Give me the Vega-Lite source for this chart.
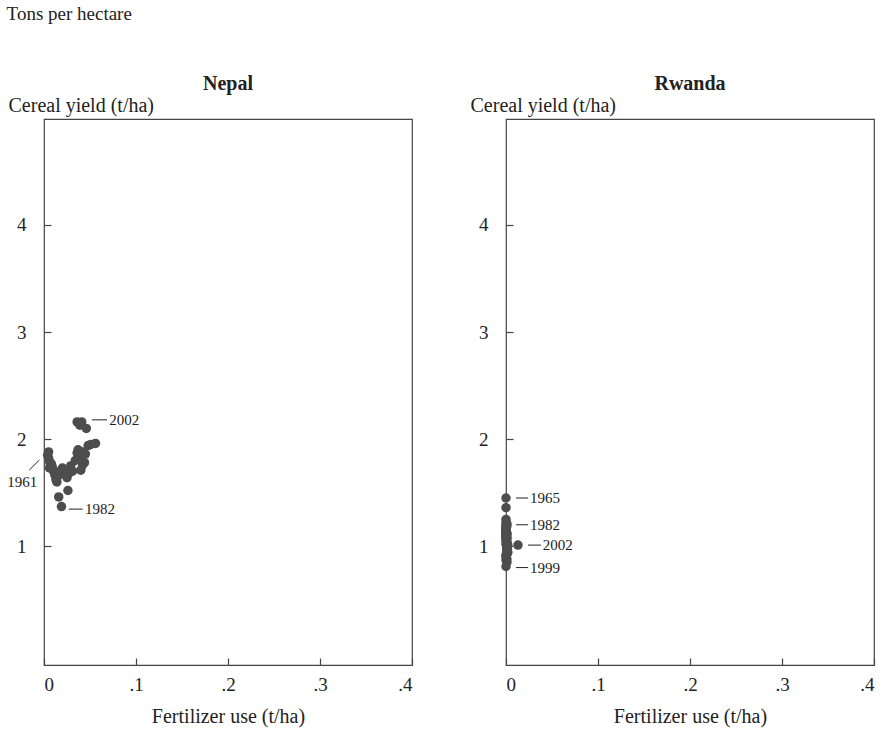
{
  "$schema": "https://vega.github.io/schema/vega-lite/v6.json",
  "background": "white",
  "padding": {"left": 6, "top": 5, "right": 5, "bottom": 5},
  "title": {"text": "Tons per hectare", "anchor": "start", "fontSize": 19, "fontWeight": "normal", "font": "Liberation Serif", "color": "#222", "offset": 49},
  "config": {
    "font": "Liberation Serif",
    "view": {"stroke": "#444", "strokeWidth": 1.2},
    "axis": {
      "domain": false, "grid": false,
      "tickColor": "#444", "tickSize": -7, "tickWidth": 1.2,
      "labelFont": "Liberation Serif", "labelFontSize": 19, "labelColor": "#222",
      "titleFont": "Liberation Serif", "titleFontSize": 20, "titleFontWeight": "normal", "titleColor": "#222"
    }
  },
  "datasets": {
    "nepal": [
      {"year": 1961, "fert": 0.004, "yield": 1.85},
      {"year": 1962, "fert": 0.005, "yield": 1.88},
      {"year": 1963, "fert": 0.005, "yield": 1.82},
      {"year": 1964, "fert": 0.006, "yield": 1.79},
      {"year": 1965, "fert": 0.007, "yield": 1.76},
      {"year": 1966, "fert": 0.006, "yield": 1.73},
      {"year": 1967, "fert": 0.008, "yield": 1.77},
      {"year": 1968, "fert": 0.009, "yield": 1.74},
      {"year": 1969, "fert": 0.010, "yield": 1.71},
      {"year": 1970, "fert": 0.011, "yield": 1.69},
      {"year": 1971, "fert": 0.012, "yield": 1.66},
      {"year": 1972, "fert": 0.013, "yield": 1.62},
      {"year": 1973, "fert": 0.014, "yield": 1.60},
      {"year": 1974, "fert": 0.016, "yield": 1.66},
      {"year": 1975, "fert": 0.018, "yield": 1.70},
      {"year": 1976, "fert": 0.020, "yield": 1.73},
      {"year": 1977, "fert": 0.019, "yield": 1.68},
      {"year": 1978, "fert": 0.021, "yield": 1.72},
      {"year": 1979, "fert": 0.016, "yield": 1.46},
      {"year": 1980, "fert": 0.025, "yield": 1.64},
      {"year": 1981, "fert": 0.027, "yield": 1.68},
      {"year": 1982, "fert": 0.019, "yield": 1.37},
      {"year": 1983, "fert": 0.026, "yield": 1.52},
      {"year": 1984, "fert": 0.029, "yield": 1.75},
      {"year": 1985, "fert": 0.031, "yield": 1.70},
      {"year": 1986, "fert": 0.034, "yield": 1.80},
      {"year": 1987, "fert": 0.036, "yield": 1.87},
      {"year": 1988, "fert": 0.037, "yield": 1.90},
      {"year": 1989, "fert": 0.039, "yield": 1.84},
      {"year": 1990, "fert": 0.040, "yield": 1.71},
      {"year": 1991, "fert": 0.042, "yield": 1.76},
      {"year": 1992, "fert": 0.044, "yield": 1.78},
      {"year": 1993, "fert": 0.043, "yield": 1.88},
      {"year": 1994, "fert": 0.045, "yield": 1.86},
      {"year": 1995, "fert": 0.048, "yield": 1.94},
      {"year": 1996, "fert": 0.051, "yield": 1.95},
      {"year": 1997, "fert": 0.056, "yield": 1.96},
      {"year": 1998, "fert": 0.038, "yield": 1.89},
      {"year": 1999, "fert": 0.036, "yield": 2.16},
      {"year": 2000, "fert": 0.041, "yield": 2.16},
      {"year": 2001, "fert": 0.039, "yield": 2.13},
      {"year": 2002, "fert": 0.046, "yield": 2.10}
    ],
    "rwanda": [
      {"year": 1961, "fert": 0.0, "yield": 1.10},
      {"year": 1962, "fert": 0.0, "yield": 1.15},
      {"year": 1963, "fert": 0.0, "yield": 1.20},
      {"year": 1964, "fert": 0.0, "yield": 1.36},
      {"year": 1965, "fert": 0.0, "yield": 1.45},
      {"year": 1966, "fert": 0.0, "yield": 1.25},
      {"year": 1967, "fert": 0.0, "yield": 1.22},
      {"year": 1968, "fert": 0.0, "yield": 1.18},
      {"year": 1969, "fert": 0.0, "yield": 1.12},
      {"year": 1970, "fert": 0.0, "yield": 1.08},
      {"year": 1971, "fert": 0.0, "yield": 1.13},
      {"year": 1972, "fert": 0.0, "yield": 1.17},
      {"year": 1973, "fert": 0.0, "yield": 1.05},
      {"year": 1974, "fert": 0.0, "yield": 1.02},
      {"year": 1975, "fert": 0.0, "yield": 1.10},
      {"year": 1976, "fert": 0.0, "yield": 1.14},
      {"year": 1977, "fert": 0.0, "yield": 1.06},
      {"year": 1978, "fert": 0.0, "yield": 1.09},
      {"year": 1979, "fert": 0.0, "yield": 1.16},
      {"year": 1980, "fert": 0.001, "yield": 1.11},
      {"year": 1981, "fert": 0.001, "yield": 1.19},
      {"year": 1982, "fert": 0.001, "yield": 1.21},
      {"year": 1983, "fert": 0.001, "yield": 1.08},
      {"year": 1984, "fert": 0.001, "yield": 0.98},
      {"year": 1985, "fert": 0.001, "yield": 1.12},
      {"year": 1986, "fert": 0.001, "yield": 1.07},
      {"year": 1987, "fert": 0.001, "yield": 1.03},
      {"year": 1988, "fert": 0.001, "yield": 1.00},
      {"year": 1989, "fert": 0.001, "yield": 0.95},
      {"year": 1990, "fert": 0.001, "yield": 0.97},
      {"year": 1991, "fert": 0.001, "yield": 0.99},
      {"year": 1992, "fert": 0.001, "yield": 1.04},
      {"year": 1993, "fert": 0.001, "yield": 0.93},
      {"year": 1994, "fert": 0.0, "yield": 0.87},
      {"year": 1995, "fert": 0.0, "yield": 0.90},
      {"year": 1996, "fert": 0.0, "yield": 0.92},
      {"year": 1997, "fert": 0.001, "yield": 0.88},
      {"year": 1998, "fert": 0.001, "yield": 0.85},
      {"year": 1999, "fert": 0.0, "yield": 0.81},
      {"year": 2000, "fert": 0.002, "yield": 0.94},
      {"year": 2001, "fert": 0.002, "yield": 1.01},
      {"year": 2002, "fert": 0.013, "yield": 1.01}
    ],
    "nepalLabels": [
      {"label": "2002", "x1": 0.052, "x2": 0.0685, "y1": 2.18, "y2": 2.18, "tx": 0.071, "ty": 2.18},
      {"label": "1982", "x1": 0.027, "x2": 0.042, "y1": 1.346, "y2": 1.346, "tx": 0.0445, "ty": 1.346},
      {"label": "1961", "x1": -0.016, "x2": -0.005, "y1": 1.711, "y2": 1.805, "tx": -0.040, "ty": 1.60}
    ],
    "rwandaLabels": [
      {"label": "1965", "x1": 0.011, "x2": 0.024, "y1": 1.45, "y2": 1.45, "tx": 0.026, "ty": 1.45},
      {"label": "1982", "x1": 0.011, "x2": 0.024, "y1": 1.20, "y2": 1.20, "tx": 0.026, "ty": 1.20},
      {"label": "2002", "x1": 0.024, "x2": 0.038, "y1": 1.01, "y2": 1.01, "tx": 0.040, "ty": 1.01},
      {"label": "1999", "x1": 0.011, "x2": 0.024, "y1": 0.80, "y2": 0.80, "tx": 0.026, "ty": 0.80}
    ]
  },
  "hconcat": [
    {
      "title": {"text": "Nepal", "fontWeight": "bold", "fontSize": 20, "anchor": "middle", "frame": "group", "color": "#222", "offset": 1},
      "width": 368, "height": 546,
      "layer": [
        {
          "data": {"name": "nepal"},
          "mark": {"type": "circle", "size": 90, "opacity": 1, "color": "#4d4d4d", "clip": false},
          "encoding": {
            "x": {"field": "fert", "type": "quantitative", "scale": {"domain": [0, 0.4], "nice": false, "zero": false},
              "axis": {"values": [0, 0.1, 0.2, 0.3, 0.4], "labelExpr": "datum.value === 0 ? '0' : '.' + round(datum.value*10)", "labelPadding": 17, "title": "Fertilizer use (t/ha)", "titlePadding": 12}},
            "y": {"field": "yield", "type": "quantitative", "scale": {"domain": [-0.11, 4.99], "nice": false, "zero": false},
              "axis": {"values": [1, 2, 3, 4], "format": "d", "labelPadding": 25, "title": "Cereal yield (t/ha)", "titleAngle": 0, "titleAlign": "left", "titleBaseline": "bottom", "titleX": -36, "titleY": -4}}
          }
        },
        {
          "data": {"name": "nepalLabels"},
          "mark": {"type": "rule", "color": "#222", "strokeWidth": 1, "clip": false},
          "encoding": {
            "x": {"field": "x1", "type": "quantitative"},
            "x2": {"field": "x2"},
            "y": {"field": "y1", "type": "quantitative"},
            "y2": {"field": "y2"}
          }
        },
        {
          "data": {"name": "nepalLabels"},
          "mark": {"type": "text", "align": "left", "baseline": "middle", "fontSize": 15, "color": "#222", "clip": false},
          "encoding": {
            "x": {"field": "tx", "type": "quantitative"},
            "y": {"field": "ty", "type": "quantitative"},
            "text": {"field": "label"}
          }
        }
      ]
    },
    {
      "title": {"text": "Rwanda", "fontWeight": "bold", "fontSize": 20, "anchor": "middle", "frame": "group", "color": "#222", "offset": 1},
      "width": 368, "height": 546,
      "layer": [
        {
          "data": {"name": "rwanda"},
          "mark": {"type": "circle", "size": 90, "opacity": 1, "color": "#4d4d4d", "clip": false},
          "encoding": {
            "x": {"field": "fert", "type": "quantitative", "scale": {"domain": [0, 0.4], "nice": false, "zero": false},
              "axis": {"values": [0, 0.1, 0.2, 0.3, 0.4], "labelExpr": "datum.value === 0 ? '0' : '.' + round(datum.value*10)", "labelPadding": 17, "title": "Fertilizer use (t/ha)", "titlePadding": 12}},
            "y": {"field": "yield", "type": "quantitative", "scale": {"domain": [-0.11, 4.99], "nice": false, "zero": false},
              "axis": {"values": [1, 2, 3, 4], "format": "d", "labelPadding": 25, "title": "Cereal yield (t/ha)", "titleAngle": 0, "titleAlign": "left", "titleBaseline": "bottom", "titleX": -36, "titleY": -4}}
          }
        },
        {
          "data": {"name": "rwandaLabels"},
          "mark": {"type": "rule", "color": "#222", "strokeWidth": 1, "clip": false},
          "encoding": {
            "x": {"field": "x1", "type": "quantitative"},
            "x2": {"field": "x2"},
            "y": {"field": "y1", "type": "quantitative"},
            "y2": {"field": "y2"}
          }
        },
        {
          "data": {"name": "rwandaLabels"},
          "mark": {"type": "text", "align": "left", "baseline": "middle", "fontSize": 15, "color": "#222", "clip": false},
          "encoding": {
            "x": {"field": "tx", "type": "quantitative"},
            "y": {"field": "ty", "type": "quantitative"},
            "text": {"field": "label"}
          }
        }
      ]
    }
  ],
  "spacing": 94,
  "bounds": "flush"
}
